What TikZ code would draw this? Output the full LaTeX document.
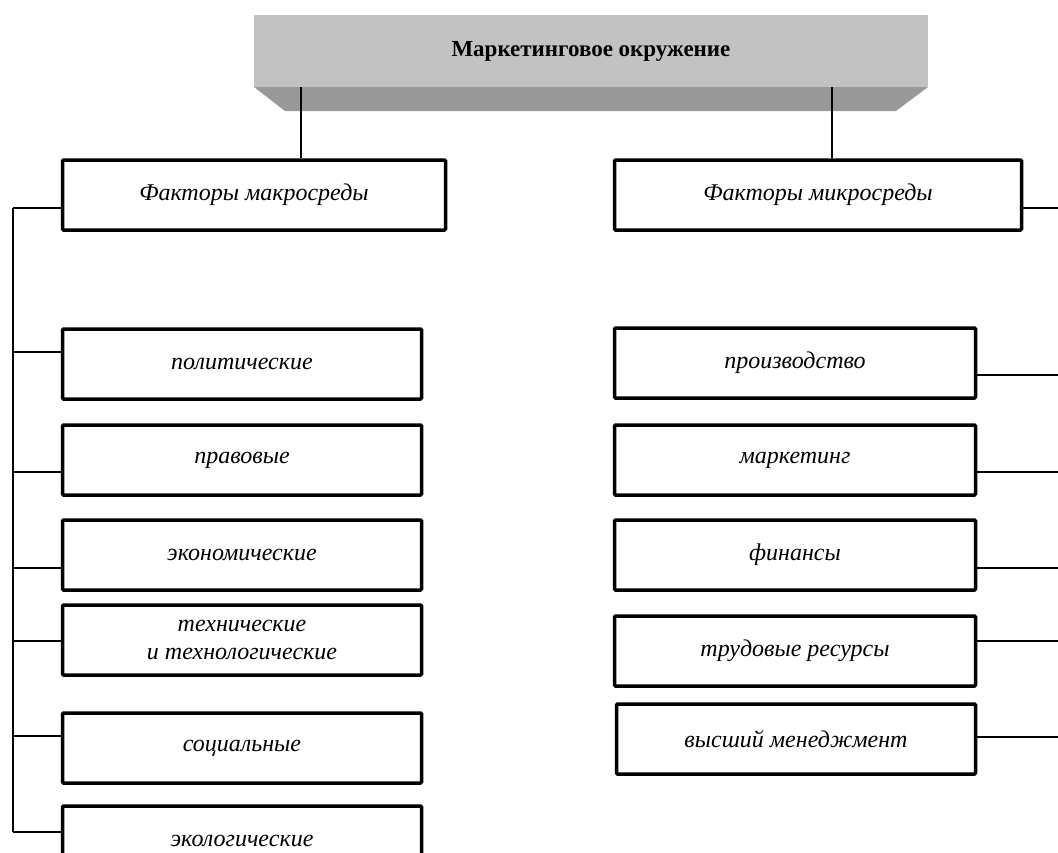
\documentclass[tikz,border=0pt]{standalone}
\usepackage{fontspec}
\setmainfont{Liberation Serif}
\usepackage{xcolor}
\usetikzlibrary{calc}
\tikzset{
  factorbox/.style={draw=black, line width=3.5pt, fill=white, rounded corners=1pt,
    minimum height=70pt, align=center, font=\itshape\fontsize{24}{28}\selectfont},
  link/.style={draw=black, line width=1.6pt}
}

\begin{document}
\begin{tikzpicture}[x=1pt, y=-1pt]

                % Frame of the picture
                \useasboundingbox (0,0) rectangle (1058,852);
                \clip (0,0) rectangle (1058,852);

                % Draw the banner
                \fill[black!40] (254,87) -- (928,87) -- (896,111) -- (285,111) -- cycle;
                \node[fill=black!24, minimum width=674pt, minimum height=72pt, inner sep=0pt,
                  font=\bfseries\fontsize{23}{26}\selectfont] (env) at (591,51) {Маркетинговое окружение};

                % Two groups of factors
                \node[factorbox, minimum width=383pt] (macro) at (254,195) {Факторы макросреды};
                \node[factorbox, minimum width=407pt] (micro) at (818,195) {Факторы микросреды};

                % Macro factors
                \node[factorbox, minimum width=359pt] (polit) at (242,364) {политические};
                \node[factorbox, minimum width=359pt] (legal) at (242,460) {правовые};
                \node[factorbox, minimum width=359pt] (econ) at (242,555) {экономические};
                \node[factorbox, minimum width=359pt] (tech) at (242,640) {технические\\и технологические};
                \node[factorbox, minimum width=359pt] (social) at (242,748) {социальные};
                \node[factorbox, minimum width=359pt] (ecol) at (242,841) {экологические};

                % Micro factors
                \node[factorbox, minimum width=361pt] (prod) at (795,363) {производство};
                \node[factorbox, minimum width=361pt] (mkt) at (795,460) {маркетинг};
                \node[factorbox, minimum width=361pt] (fin) at (795,555) {финансы};
                \node[factorbox, minimum width=361pt] (labour) at (795,651) {трудовые ресурсы};
                \node[factorbox, minimum width=359pt] (mgmt) at (796,739) {высший менеджмент};

                % Stems from the banner
                \coordinate (lstem) at (301,0);
                \coordinate (rstem) at (832,0);
                \draw[link] (env.south -| lstem) -- (macro.north -| lstem);
                \draw[link] (env.south -| rstem) -- (micro.north -| rstem);

                % Left bus
                \coordinate (lbus) at (13,208);
                \draw[link] (lbus) -- (lbus |- 0,832);
                \draw[link] (lbus) -- (macro.west |- lbus);
                \draw[link] (lbus |- 0,352) -- (polit.west |- 0,352);
                \draw[link] (lbus |- 0,472) -- (legal.west |- 0,472);
                \draw[link] (lbus |- 0,568) -- (econ.west |- 0,568);
                \draw[link] (lbus |- 0,641) -- (tech.west |- 0,641);
                \draw[link] (lbus |- 0,736) -- (social.west |- 0,736);
                \draw[link] (lbus |- 0,832) -- (ecol.west |- 0,832);

                % Right links to the page edge
                \coordinate (redge) at (1058,0);
                \draw[link] (micro.east |- 0,208) -- (redge |- 0,208);
                \draw[link] (prod.east |- 0,375) -- (redge |- 0,375);
                \draw[link] (mkt.east |- 0,472) -- (redge |- 0,472);
                \draw[link] (fin.east |- 0,568) -- (redge |- 0,568);
                \draw[link] (labour.east |- 0,641) -- (redge |- 0,641);
                \draw[link] (mgmt.east |- 0,737) -- (redge |- 0,737);

            \end{tikzpicture}
\end{document}
